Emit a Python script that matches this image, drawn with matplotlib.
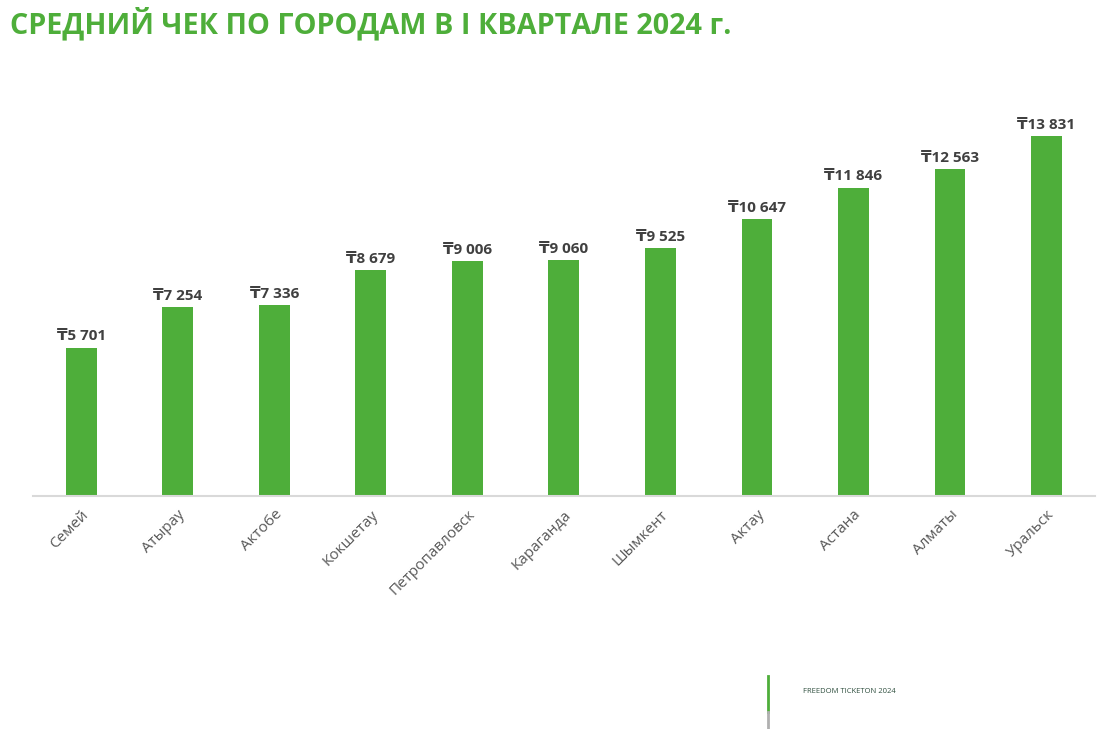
import matplotlib.pyplot as plt
import numpy as np

cities = ["Семей", "Атырау", "Актобе", "Кокшетау", "Петропавловск", "Караганда",
          "Шымкент", "Актау", "Астана", "Алматы", "Уральск"]
avg_check = [5701, 7254, 7336, 8679, 9006, 9060, 9525, 10647, 11846, 12563, 13831]

green = "#4EAE3A"
fonts = ["Open Sans", "DejaVu Sans"]
plt.rcParams["font.family"] = fonts

fig = plt.figure(figsize=(11.2, 7.29), dpi=100)
ax = fig.add_axes([0.0295, 0.3196, 0.948, 0.543])

x = np.arange(len(cities))
bars = ax.bar(x, avg_check, width=0.32, color=green)

for xi, v in zip(x, avg_check):
    label = "₸" + f"{v:,}".replace(",", " ")
    ax.annotate(label, (xi, v), xytext=(0, 3), textcoords="offset points",
                ha="center", va="bottom", fontsize=11, fontweight="bold",
                color="#404040")

ax.set_xlim(-0.5, len(cities) - 0.5)
ax.set_ylim(0, 15200)
ax.set_xticks(x)
ax.set_xticklabels(cities, rotation=45, ha="right", rotation_mode="anchor",
                   fontsize=11, color="#595959")
ax.tick_params(axis="x", length=0, pad=8)
ax.set_yticks([])
for side in ["top", "left", "right"]:
    ax.spines[side].set_visible(False)
ax.spines["bottom"].set_color("#d9d9d9")
ax.spines["bottom"].set_linewidth(1.5)

fig.text(0.009, 0.968, "СРЕДНИЙ ЧЕК ПО ГОРОДАМ В I КВАРТАЛЕ 2024 г.",
         fontsize=20.7, fontweight="bold", color=green, ha="left", va="center")

# footer mark
fig.add_artist(plt.Line2D([0.686, 0.686], [0.023, 0.073], color=green, lw=2))
fig.add_artist(plt.Line2D([0.686, 0.686], [0.0, 0.023], color="#b0b0b0", lw=2))
fig.text(0.717, 0.051, "FREEDOM TICKETON 2024", fontsize=5.5, color="#2f4f3f",
         ha="left", va="center")

fig.savefig("out.png", dpi=100)
